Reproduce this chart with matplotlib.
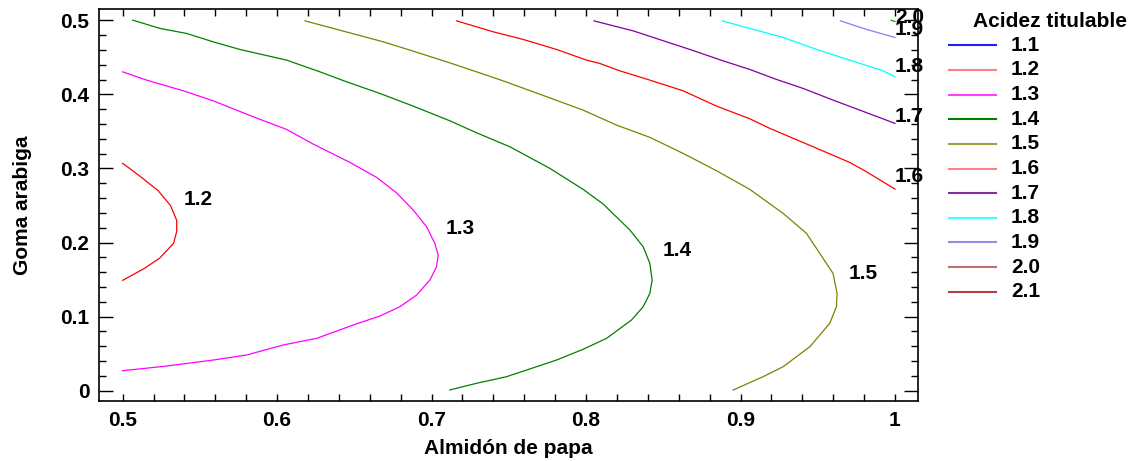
import numpy as np
import matplotlib
matplotlib.use("Agg")
import matplotlib.pyplot as plt
from matplotlib.ticker import MultipleLocator, FormatStrFormatter

plt.rcParams['font.family'] = ['Liberation Sans', 'DejaVu Sans']
plt.rcParams['font.weight'] = 'bold'

# contour lines: (Almidon de papa, Goma arabiga)
c12_x = [0.500, 0.511, 0.523, 0.531, 0.535, 0.535, 0.533, 0.524, 0.514, 0.500]
c12_y = [0.307, 0.290, 0.270, 0.250, 0.230, 0.215, 0.199, 0.179, 0.165, 0.149]

c13_x = [0.500, 0.5155, 0.5392, 0.5586, 0.5845, 0.6061, 0.6234, 0.6471, 0.6644, 0.6773,
         0.6881, 0.6968, 0.7021, 0.7043, 0.7032, 0.6989, 0.6903, 0.6795, 0.6665, 0.6493,
         0.6256, 0.6039, 0.5803, 0.5586, 0.5285, 0.500]
c13_y = [0.4305, 0.4193, 0.4049, 0.3914, 0.3698, 0.3528, 0.3329, 0.3082, 0.2880, 0.2672,
         0.2439, 0.2213, 0.1989, 0.1831, 0.1673, 0.1494, 0.1291, 0.1134, 0.1008, 0.0887,
         0.0707, 0.0617, 0.0482, 0.0414, 0.0333, 0.0270]

c14_x = [0.5065, 0.5241, 0.5414, 0.5586, 0.5759, 0.6061, 0.6277, 0.6450, 0.6665, 0.6881,
         0.7118, 0.7291, 0.7507, 0.7766, 0.7981, 0.8111, 0.8284, 0.8370, 0.8413, 0.8428,
         0.8413, 0.8370, 0.8294, 0.8133, 0.7981, 0.7809, 0.7680, 0.7485, 0.7291, 0.7118]
c14_y = [0.5003, 0.4891, 0.4823, 0.4710, 0.4607, 0.4463, 0.4305, 0.4170, 0.4013, 0.3842,
         0.3644, 0.3482, 0.3293, 0.3001, 0.2718, 0.2520, 0.2169, 0.1943, 0.1719, 0.1494,
         0.1314, 0.1134, 0.0954, 0.0707, 0.0559, 0.0414, 0.0324, 0.0189, 0.0100, 0.0010]

c15_x = [0.6180, 0.6363, 0.6687, 0.6860, 0.7118, 0.7291, 0.7463, 0.7658, 0.7981, 0.8197,
         0.8413, 0.8628, 0.8845, 0.9060, 0.9276, 0.9427, 0.9513, 0.9599, 0.9625, 0.9621,
         0.9578, 0.9449, 0.9276, 0.9146, 0.8952]
c15_y = [0.4993, 0.4891, 0.4710, 0.4598, 0.4426, 0.4305, 0.4183, 0.4035, 0.3788, 0.3586,
         0.3420, 0.3204, 0.2969, 0.2718, 0.2394, 0.2124, 0.1854, 0.1584, 0.1314, 0.1134,
         0.0910, 0.0594, 0.0324, 0.0189, 0.0009]

c16_x = [0.7162, 0.7399, 0.7593, 0.7809, 0.8003, 0.8089, 0.8219, 0.8413, 0.8628, 0.8845,
         0.9060, 0.9190, 0.9470, 0.9707, 0.9816, 1.000]
c16_y = [0.4993, 0.4845, 0.4742, 0.4607, 0.4463, 0.4418, 0.4318, 0.4193, 0.4049, 0.3842,
         0.3671, 0.3541, 0.3293, 0.3082, 0.2955, 0.2722]

c17_x = [0.8051, 0.8305, 0.8521, 0.8672, 0.8887, 0.9060, 0.9233, 0.9405, 0.9599, 0.9772, 1.000]
c17_y = [0.4993, 0.4858, 0.4710, 0.4607, 0.4453, 0.4337, 0.4202, 0.4081, 0.3923, 0.3788, 0.3609]

c18_x = [0.8881, 0.9060, 0.9276, 0.9492, 0.9707, 0.9923, 1.000]
c18_y = [0.4993, 0.4891, 0.4769, 0.4607, 0.4463, 0.4318, 0.4238]

c19_x = [0.9647, 0.9816, 1.000]
c19_y = [0.4993, 0.4877, 0.4769]

c20_x = [0.9975, 1.000]
c20_y = [0.5000, 0.4985]

lines = [
    (c12_x, c12_y, '#ff0000'),
    (c13_x, c13_y, '#ff00ff'),
    (c14_x, c14_y, '#008000'),
    (c15_x, c15_y, '#808000'),
    (c16_x, c16_y, '#ff0000'),
    (c17_x, c17_y, '#8000a0'),
    (c18_x, c18_y, '#00ffff'),
    (c19_x, c19_y, '#8080ff'),
    (c20_x, c20_y, '#00a000'),
]

# label text and position (left edge, vertical centre)
label_txt = ['1.2', '1.3', '1.4', '1.5', '1.6', '1.7', '1.8', '1.9', '2.0']
label_x = [0.5397, 0.7093, 0.8499, 0.9703, 1.000, 1.000, 1.000, 1.000, 1.000]
label_y = [0.2583, 0.2192, 0.1889, 0.1584, 0.2888, 0.3698, 0.4372, 0.4881, 0.5036]

legend_levels = ['1.1', '1.2', '1.3', '1.4', '1.5', '1.6', '1.7', '1.8', '1.9', '2.0', '2.1']
legend_colors = ['#2020ff', '#ff8080', '#ff40ff', '#008000', '#a0a040', '#ff8080',
                 '#8030a0', '#40ffff', '#9090e0', '#c07070', '#b04040']

FS = 15

fig = plt.figure(figsize=(11.36, 4.61), dpi=100)
ax = fig.add_axes([99/1136, 1-401/461, 819/1136, 392/461])

for xs, ys, col in lines:
    ax.plot(xs, ys, color=col, lw=0.9)

for t, x, y in zip(label_txt, label_x, label_y):
    ax.text(x, y, t, ha='left', va='center', fontsize=FS, fontweight='bold')

ax.set_xlim(0.4847, 1.0149)
ax.set_ylim(-0.0139, 0.5153)
ax.xaxis.set_major_locator(MultipleLocator(0.1))
ax.xaxis.set_minor_locator(MultipleLocator(0.02))
ax.yaxis.set_major_locator(MultipleLocator(0.1))
ax.yaxis.set_minor_locator(MultipleLocator(0.02))
ax.xaxis.set_major_formatter(FormatStrFormatter('%g'))
ax.yaxis.set_major_formatter(FormatStrFormatter('%g'))
ax.tick_params(axis='both', which='both', direction='in', top=True, right=True,
               labelsize=FS, width=1, pad=7)
ax.tick_params(axis='x', which='both', length=5)
ax.tick_params(axis='y', which='major', length=10)
ax.tick_params(axis='y', which='minor', length=5)
for lab in ax.get_xticklabels() + ax.get_yticklabels():
    lab.set_fontweight('bold')
for s in ax.spines.values():
    s.set_linewidth(1.2)

ax.set_xlabel('Almidón de papa', fontsize=FS, fontweight='bold', labelpad=7)
ax.set_ylabel('Goma arabiga', fontsize=FS, fontweight='bold', labelpad=20)

# legend drawn in its own pixel-scaled axes
lax = fig.add_axes([940/1136, 1-300/461, 196/1136, 300/461])
lax.set_xlim(940, 1136)
lax.set_ylim(300, 0)
lax.axis('off')
lax.text(973, 21, 'Acidez titulable', ha='left', va='center', fontsize=FS, fontweight='bold')
for i, (lev, col) in enumerate(zip(legend_levels, legend_colors)):
    yy = 45.3 + i * 24.64
    lax.plot([949, 996], [yy, yy], color=col, lw=1.5)
    lax.text(1011, yy, lev, ha='left', va='center', fontsize=FS, fontweight='bold')

fig.savefig('out.png', dpi=100)
